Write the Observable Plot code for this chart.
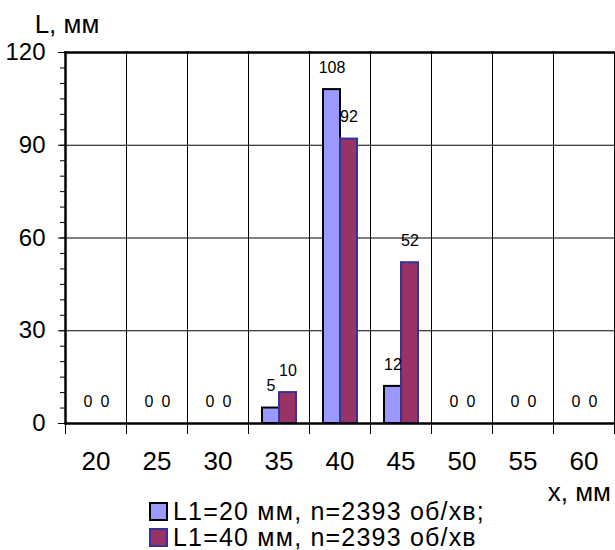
<!DOCTYPE html>
<html>
<head>
<meta charset="utf-8">
<script src="https://cdn.jsdelivr.net/npm/d3@7"></script>
<script src="https://cdn.jsdelivr.net/npm/@observablehq/plot@0.6"></script>
<style>
  body { margin: 0; background: #fff; font-family: "Liberation Sans", Arial, sans-serif; }
  #wrap { width: 615px; position: relative; }
  .legend { margin-top: -12px; }
  .row { display: flex; align-items: center; height: 26px; line-height: 26px; padding-left: 149px; font-size: 25px; letter-spacing: 1.2px; color: #000; }
  .sw { width: 19px; height: 19px; box-sizing: border-box; border: 2px solid #000; margin-right: 5px; }
</style>
</head>
<body>
<div id="wrap"></div>
<script>
const categories = ["20", "25", "30", "35", "40", "45", "50", "55", "60"];
const seriesNames = ["L1=20 мм, n=2393 об/хв;", "L1=40 мм, n=2393 об/хв"];
const series1 = [0, 0, 0, 5, 108, 12, 0, 0, 0];
const series2 = [0, 0, 0, 10, 92, 52, 0, 0, 0];
const yMajorTicks = [0, 30, 60, 90, 120];
const yMinorTicks = d3.range(0, 121, 5);
const fills = ["#9999FF", "#993366"];
const strokes = ["#000000", "#333399"];

const data = [];
categories.forEach((c, i) => {
  data.push({cat: c, s: seriesNames[0], value: series1[i]});
  data.push({cat: c, s: seriesNames[1], value: series2[i]});
});

const chart = Plot.plot({
  width: 615,
  height: 510,
  marginLeft: 65,
  marginRight: 1,
  marginTop: 52,
  marginBottom: 87,
  style: {fontFamily: "Liberation Sans, Arial, sans-serif", color: "#000", background: "#fff"},
  fx: {domain: categories, padding: 0, label: null},
  x: {domain: seriesNames, paddingInner: 0, paddingOuter: 0.7, axis: null},
  y: {domain: [0, 120], axis: null},
  color: {domain: seriesNames, range: fills},
  marks: [
    Plot.gridY([30, 60, 90], {stroke: "#000", strokeOpacity: 1, strokeWidth: 1}),
    Plot.frame({anchor: "left", stroke: "#000", strokeWidth: 1, insetBottom: -10}),
    Plot.frame({anchor: "right", stroke: "#000", strokeWidth: 1, insetBottom: -10}),
    Plot.frame({anchor: "top", stroke: "#000", strokeWidth: 2.5}),
    Plot.barY(data, {fx: "cat", x: "s", y: "value", fill: "s",
      stroke: d => d.s === seriesNames[0] ? strokes[0] : strokes[1], strokeWidth: 2}),
    Plot.text(data, {fx: "cat", x: "s", y: "value", text: "value", dy: -22, fontSize: 16, fill: "#000"}),
    Plot.ruleY([0], {stroke: "#000", strokeWidth: 2.5}),
    Plot.frame({anchor: "left", stroke: "#000", strokeWidth: 2.5, facetAnchor: "left"}),
    Plot.axisY({ticks: yMinorTicks, tickSize: 5, tickFormat: () => "", label: null, strokeWidth: 1}),
    Plot.axisY({ticks: yMajorTicks, tickSize: 7, tickPadding: 13, fontSize: 24, label: null}),
    Plot.axisFx({anchor: "bottom", tickSize: 0, tickPadding: 28, fontSize: 26, label: null})
  ]
});

const svg = d3.select(chart);
svg.append("text").attr("x", 67).attr("y", 33).attr("font-size", 26).attr("fill", "#000").text("L, мм");
svg.append("text").attr("x", 611).attr("y", 501).attr("text-anchor", "end").attr("font-size", 26).attr("fill", "#000").text("x, мм");

const wrap = document.getElementById("wrap");
wrap.appendChild(chart);
const legend = document.createElement("div");
legend.className = "legend";
seriesNames.forEach((n, i) => {
  const row = document.createElement("div");
  row.className = "row";
  const sw = document.createElement("span");
  sw.className = "sw";
  sw.style.background = fills[i];
  sw.style.borderColor = strokes[i];
  const t = document.createElement("span");
  t.textContent = n;
  row.appendChild(sw);
  row.appendChild(t);
  legend.appendChild(row);
});
wrap.appendChild(legend);
</script>
</body>
</html>
